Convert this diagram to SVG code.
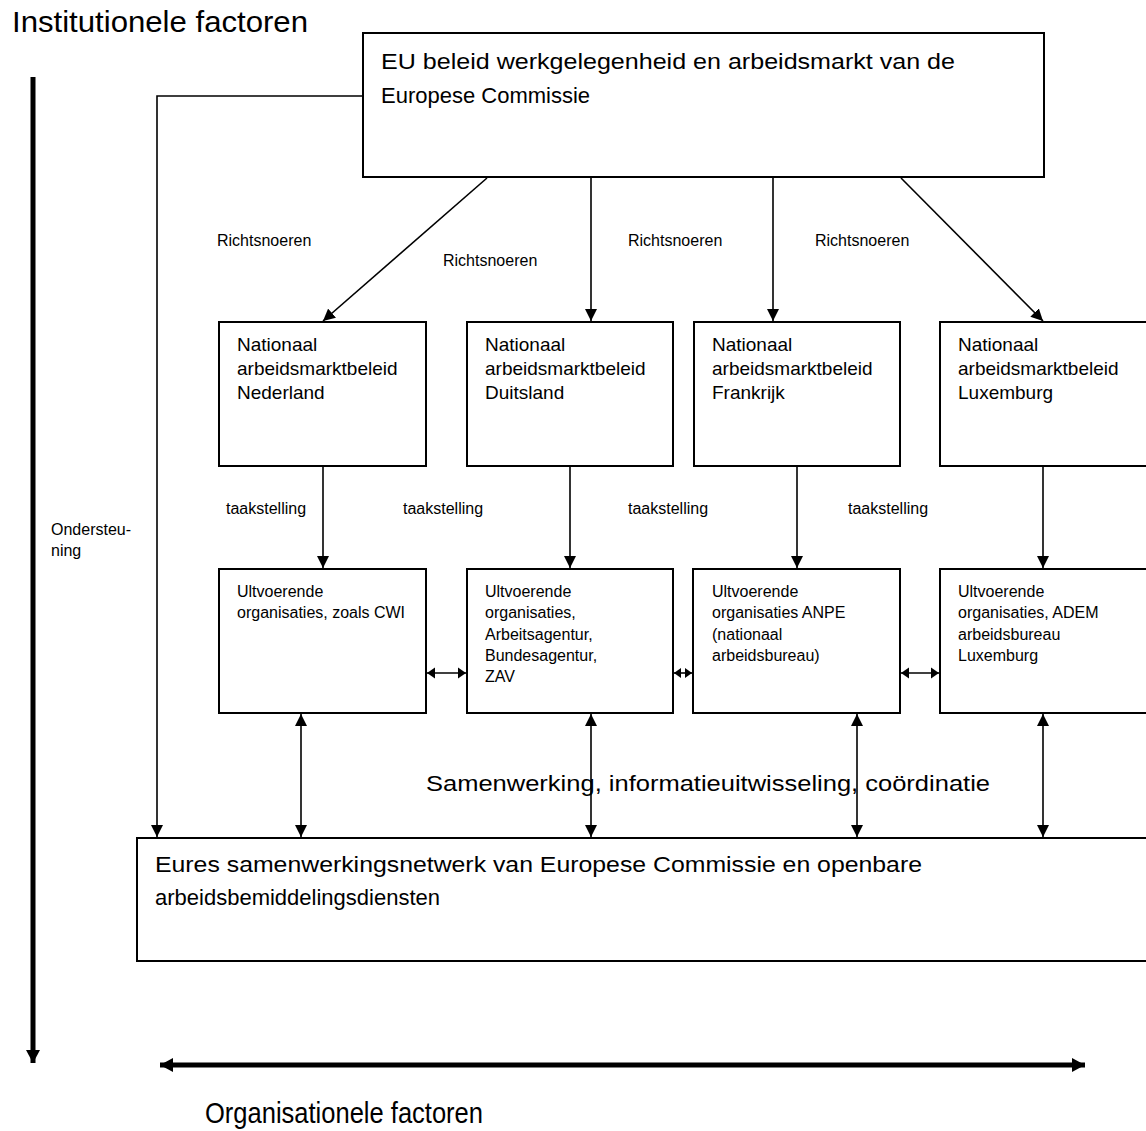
<svg xmlns="http://www.w3.org/2000/svg" width="1146" height="1131" viewBox="0 0 1146 1131">
<style>
text{font-family:"Liberation Sans",Arial,sans-serif;fill:#000}
.box{fill:#fff;stroke:#000;stroke-width:2}
.c{fill:none;stroke:#000;stroke-width:1.6}
.thick{fill:none;stroke:#000;stroke-width:5}
.big{font-size:22px}
.nat{font-size:19px}
.org{font-size:16px}
.lbl{font-size:16px}
.title{font-size:29px}
</style>
<defs>
<marker id="ah" markerUnits="userSpaceOnUse" markerWidth="14" markerHeight="12" refX="12" refY="6" orient="auto-start-reverse">
<path d="M0,0 L12,6 L0,12 Z" fill="#000"/>
</marker>
<marker id="ahS" markerUnits="userSpaceOnUse" markerWidth="10" markerHeight="12" refX="8" refY="6" orient="auto-start-reverse">
<path d="M0,0.5 L8,6 L0,11.5 Z" fill="#000"/>
</marker>
<marker id="ahX" markerUnits="userSpaceOnUse" markerWidth="8" markerHeight="12" refX="7" refY="6" orient="auto-start-reverse">
<path d="M0,1 L7,6 L0,11 Z" fill="#000"/>
</marker>
<marker id="ahT" markerUnits="userSpaceOnUse" markerWidth="16" markerHeight="16" refX="13" refY="8" orient="auto-start-reverse">
<path d="M0,1 L13,8 L0,15 Z" fill="#000"/>
</marker>
</defs>
<rect width="1146" height="1131" fill="#fff"/>

<g id="titles">
<text class="title" x="12" y="32" textLength="296" lengthAdjust="spacingAndGlyphs">Institutionele factoren</text>
<text class="title" x="205" y="1123" font-size="27" textLength="278" lengthAdjust="spacingAndGlyphs">Organisationele factoren</text>
</g>

<g id="axes">
<line class="thick" x1="33" y1="77" x2="33" y2="1063" marker-end="url(#ahT)"/>
<line class="thick" x1="160" y1="1065" x2="1085" y2="1065" marker-start="url(#ahT)" marker-end="url(#ahT)"/>
</g>

<g id="eu">
<rect class="box" x="363" y="33" width="681" height="144"/>
<text class="big" x="381" y="69" textLength="574" lengthAdjust="spacingAndGlyphs">EU beleid werkgelegenheid en arbeidsmarkt van de</text>
<text class="big" x="381" y="103">Europese Commissie</text>
</g>

<g id="nat-nl">
<rect class="box" x="219" y="322" width="207" height="144"/>
<text class="nat" x="237" y="351">Nationaal</text>
<text class="nat" x="237" y="375">arbeidsmarktbeleid</text>
<text class="nat" x="237" y="399">Nederland</text>
</g>
<g id="nat-de">
<rect class="box" x="467" y="322" width="206" height="144"/>
<text class="nat" x="485" y="351">Nationaal</text>
<text class="nat" x="485" y="375">arbeidsmarktbeleid</text>
<text class="nat" x="485" y="399">Duitsland</text>
</g>
<g id="nat-fr">
<rect class="box" x="694" y="322" width="206" height="144"/>
<text class="nat" x="712" y="351">Nationaal</text>
<text class="nat" x="712" y="375">arbeidsmarktbeleid</text>
<text class="nat" x="712" y="399">Frankrijk</text>
</g>
<g id="nat-lu">
<rect class="box" x="940" y="322" width="212" height="144"/>
<text class="nat" x="958" y="351">Nationaal</text>
<text class="nat" x="958" y="375">arbeidsmarktbeleid</text>
<text class="nat" x="958" y="399">Luxemburg</text>
</g>

<g id="org-nl">
<rect class="box" x="219" y="569" width="207" height="144"/>
<text class="org" x="237" y="597">Ultvoerende</text>
<text class="org" x="237" y="618">organisaties, zoals CWI</text>
</g>
<g id="org-de">
<rect class="box" x="467" y="569" width="206" height="144"/>
<text class="org" x="485" y="597">Ultvoerende</text>
<text class="org" x="485" y="618">organisaties,</text>
<text class="org" x="485" y="640">Arbeitsagentur,</text>
<text class="org" x="485" y="661">Bundesagentur,</text>
<text class="org" x="485" y="682">ZAV</text>
</g>
<g id="org-fr">
<rect class="box" x="693" y="569" width="207" height="144"/>
<text class="org" x="712" y="597">Ultvoerende</text>
<text class="org" x="712" y="618">organisaties ANPE</text>
<text class="org" x="712" y="640">(nationaal</text>
<text class="org" x="712" y="661">arbeidsbureau)</text>
</g>
<g id="org-lu">
<rect class="box" x="940" y="569" width="212" height="144"/>
<text class="org" x="958" y="597">Ultvoerende</text>
<text class="org" x="958" y="618">organisaties, ADEM</text>
<text class="org" x="958" y="640">arbeidsbureau</text>
<text class="org" x="958" y="661">Luxemburg</text>
</g>

<g id="eures">
<rect class="box" x="137" y="838" width="1015" height="123"/>
<text class="big" x="155" y="872" textLength="767" lengthAdjust="spacingAndGlyphs">Eures samenwerkingsnetwerk van Europese Commissie en openbare</text>
<text class="big" x="155" y="905">arbeidsbemiddelingsdiensten</text>
</g>

<g id="connectors">
<polyline class="c" points="363,96 157,96 157,837" marker-end="url(#ah)"/>
<line class="c" x1="487" y1="178" x2="323" y2="321" marker-end="url(#ah)"/>
<line class="c" x1="591" y1="178" x2="591" y2="321" marker-end="url(#ah)"/>
<line class="c" x1="773" y1="178" x2="773" y2="321" marker-end="url(#ah)"/>
<line class="c" x1="901" y1="178" x2="1043" y2="321" marker-end="url(#ah)"/>
<line class="c" x1="323" y1="467" x2="323" y2="568" marker-end="url(#ah)"/>
<line class="c" x1="570" y1="467" x2="570" y2="568" marker-end="url(#ah)"/>
<line class="c" x1="797" y1="467" x2="797" y2="568" marker-end="url(#ah)"/>
<line class="c" x1="1043" y1="467" x2="1043" y2="568" marker-end="url(#ah)"/>
<line class="c" x1="427" y1="673" x2="466" y2="673" marker-start="url(#ahS)" marker-end="url(#ahS)"/>
<line class="c" x1="674" y1="673" x2="692" y2="673" marker-start="url(#ahX)" marker-end="url(#ahX)"/>
<line class="c" x1="901" y1="673" x2="939" y2="673" marker-start="url(#ahS)" marker-end="url(#ahS)"/>
<line class="c" x1="301" y1="714" x2="301" y2="837" marker-start="url(#ah)" marker-end="url(#ah)"/>
<line class="c" x1="591" y1="714" x2="591" y2="837" marker-start="url(#ah)" marker-end="url(#ah)"/>
<line class="c" x1="857" y1="714" x2="857" y2="837" marker-start="url(#ah)" marker-end="url(#ah)"/>
<line class="c" x1="1043" y1="714" x2="1043" y2="837" marker-start="url(#ah)" marker-end="url(#ah)"/>
</g>

<g id="labels">
<text class="lbl" x="217" y="246">Richtsnoeren</text>
<text class="lbl" x="443" y="266">Richtsnoeren</text>
<text class="lbl" x="628" y="246">Richtsnoeren</text>
<text class="lbl" x="815" y="246">Richtsnoeren</text>
<text class="lbl" x="226" y="514">taakstelling</text>
<text class="lbl" x="403" y="514">taakstelling</text>
<text class="lbl" x="628" y="514">taakstelling</text>
<text class="lbl" x="848" y="514">taakstelling</text>
<text class="lbl" x="51" y="535">Ondersteu-</text>
<text class="lbl" x="51" y="556">ning</text>
<text class="big" x="426" y="791" textLength="564" lengthAdjust="spacingAndGlyphs">Samenwerking, informatieuitwisseling, coördinatie</text>
</g>
</svg>
